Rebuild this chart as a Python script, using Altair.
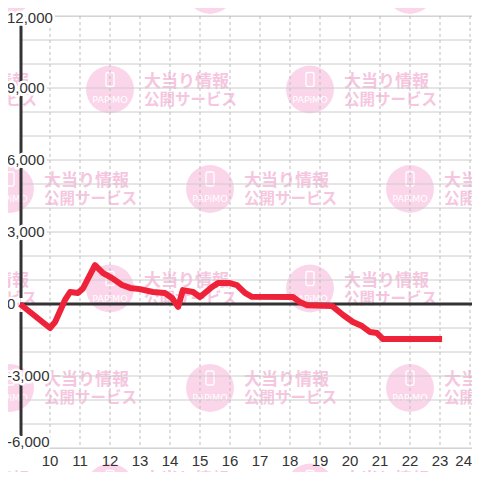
import altair as alt
import pandas as pd

# ---- data ----
hours = [9.0, 10.0, 10.17, 10.5, 10.67, 10.93, 11.1, 11.5, 11.77, 12.07, 12.4, 12.67,
         13.0, 13.43, 13.83, 14.07, 14.27, 14.43, 14.77, 15.0, 15.4, 15.6, 16.0, 16.23,
         16.5, 16.73, 18.1, 18.33, 18.57, 19.4, 19.77, 20.1, 20.4, 20.67, 20.9, 21.1, 23.07]
values = [0, -1000, -750, 170, 500, 460, 650, 1620, 1290, 1080, 790, 670,
          620, 500, 460, 250, -120, 580, 500, 290, 710, 870, 870, 790,
          460, 300, 290, 80, -50, -80, -460, -750, -920, -1170, -1210, -1460, -1460]
y_label_values = [-6000, -3000, 0, 3000, 6000, 9000, 12000]
y_grid_values = list(range(-6000, 12001, 1000))
x_tick_values = list(range(10, 25))

# ---- layout ----
W, H = 452, 432
PXH = 30.0                                 # pixels per hour
X_DOM = [9, 9 + W / PXH]
Y_DOM = [-6000, 12000]
UNIT = (Y_DOM[1] - Y_DOM[0]) / H           # value units per pixel
xs = alt.Scale(domain=X_DOM, nice=False, zero=False)
ys = alt.Scale(domain=Y_DOM, nice=False, zero=False)

AXIS_COLOR = "#333333"
GRID_COLOR = "#cccccc"
RED = "#ee2238"
FONT = "Liberation Sans"

line_df = pd.DataFrame({"hour": hours, "value": values})
hgrid_df = pd.DataFrame({"v": y_grid_values})
vgrid_df = pd.DataFrame({"h": x_tick_values, "lab": [str(h) for h in x_tick_values]})

lab_dy = {12000: 1.5, -6000: -6}
lab_df = pd.DataFrame({"v": y_label_values,
                       "lab": [f"{v:,}" for v in y_label_values]})

centers = [v - lab_dy.get(v, 0) * UNIT for v in y_label_values]
seg_df = pd.DataFrame({
    "lo": [c + 6 * UNIT for c in centers[:-1]],
    "hi": [c - 8 * UNIT for c in centers[1:]],
})

# ---- watermark (background decoration, lattice in pixels -> data units) ----
def hx(px):
    return X_DOM[0] + px / PXH

def vy(py):
    return Y_DOM[1] - py * UNIT

wm_rows = []
for k in range(6):
    cy = -10 + 99.5 * k - 16
    x0 = -190 if k % 2 == 0 else -90
    for j in range(4):
        cx = x0 + 200 * j - 20
        wm_rows.append(dict(cx=hx(cx), cy=vy(cy), ix1=hx(cx - 4), ix2=hx(cx + 4),
                            iy1=vy(cy - 17), iy2=vy(cy - 3), py=vy(cy + 10),
                            tx=hx(cx + 34), t1y=vy(cy - 8), t2y=vy(cy + 10)))
wm_df = pd.DataFrame(wm_rows)
WM_CIRCLE = "#fbd5ea"
WM_TEXT = "#f6c6e0"


def X(field):
    return alt.X(field, scale=xs, axis=None)


def Y(field):
    return alt.Y(field, scale=ys, axis=None)


wm_base = alt.Chart(wm_df)
wm_circle = wm_base.mark_circle(size=2290, color=WM_CIRCLE, opacity=1).encode(
    x=X("cx:Q"), y=Y("cy:Q"))
wm_icon = wm_base.mark_rect(filled=False, stroke="white", strokeWidth=1.3, cornerRadius=1.5).encode(
    x=X("ix1:Q"), x2="ix2:Q", y=Y("iy1:Q"), y2="iy2:Q")
wm_pap = wm_base.mark_text(text="PAPiMO", color="white", fontSize=9.5, font="DejaVu Sans",
                           baseline="middle", align="center").encode(
    x=X("cx:Q"), y=Y("py:Q"))
wm_t1 = wm_base.mark_text(text="大当り情報", color=WM_TEXT, fontSize=17, font="Noto Sans CJK JP",
                          fontWeight="bold", align="left", baseline="middle").encode(
    x=X("tx:Q"), y=Y("t1y:Q"))
wm_t2 = wm_base.mark_text(text="公開サービス", color=WM_TEXT, fontSize=15.5, font="Noto Sans CJK JP",
                          fontWeight="bold", align="left", baseline="middle").encode(
    x=X("tx:Q"), y=Y("t2y:Q"))

# ---- chart layers ----
hgrid = alt.Chart(hgrid_df).mark_rule(color=GRID_COLOR, strokeWidth=1).encode(y=Y("v:Q"))
vgrid = alt.Chart(vgrid_df).mark_rule(color="#bdbdbd", strokeWidth=1, strokeDash=[3, 3]).encode(
    x=X("h:Q"))
zero = alt.Chart(pd.DataFrame({"v": [0]})).mark_rule(color=AXIS_COLOR, strokeWidth=3).encode(
    y=Y("v:Q"))
yaxis = alt.Chart(seg_df).mark_rule(color=AXIS_COLOR, strokeWidth=3).encode(
    x=alt.value(1), y=Y("lo:Q"), y2="hi:Q")

# x-axis labels as text marks
xlab_base = alt.Chart(vgrid_df)
xlabels = xlab_base.transform_filter("datum.h < 24").mark_text(
    align="center", baseline="middle", fontSize=15, font=FONT, color=AXIS_COLOR).encode(
    x=X("h:Q"), y=alt.value(H + 13), text="lab:N")
xlabel_last = xlab_base.transform_filter("datum.h == 24").mark_text(
    align="right", baseline="middle", dx=2, fontSize=15, font=FONT, color=AXIS_COLOR).encode(
    x=X("h:Q"), y=alt.value(H + 13), text="lab:N")


def label_layers(flt, dy):
    base = alt.Chart(lab_df).transform_filter(flt)
    enc = dict(x=alt.value(-13), y=Y("v:Q"), text="lab:N")
    halo = base.mark_text(align="left", baseline="middle", dy=dy, fontSize=15, font=FONT,
                          fill="white", stroke="white", strokeWidth=5, strokeJoin="round").encode(**enc)
    txt = base.mark_text(align="left", baseline="middle", dy=dy, fontSize=15, font=FONT,
                         color=AXIS_COLOR).encode(**enc)
    return [halo, txt]


labels = (label_layers("datum.v > -6000 && datum.v < 12000", 0)
          + label_layers("datum.v == 12000", 1.5)
          + label_layers("datum.v == -6000", -6))

line = alt.Chart(line_df).mark_line(color=RED, strokeWidth=6, strokeJoin="round").encode(
    x=X("hour:Q"), y=Y("value:Q"))

chart = alt.layer(wm_circle, wm_icon, wm_pap, wm_t1, wm_t2,
                  hgrid, vgrid, zero, yaxis, *labels, xlabels, xlabel_last, line).properties(
    width=W, height=H,
    autosize=alt.AutoSizeParams(type="none"),
    padding={"left": 12, "top": 8, "right": 0, "bottom": 24},
).configure_view(stroke=None).configure(background="white")

chart.save("out.html", embed_options={"renderer": "svg", "actions": False})
